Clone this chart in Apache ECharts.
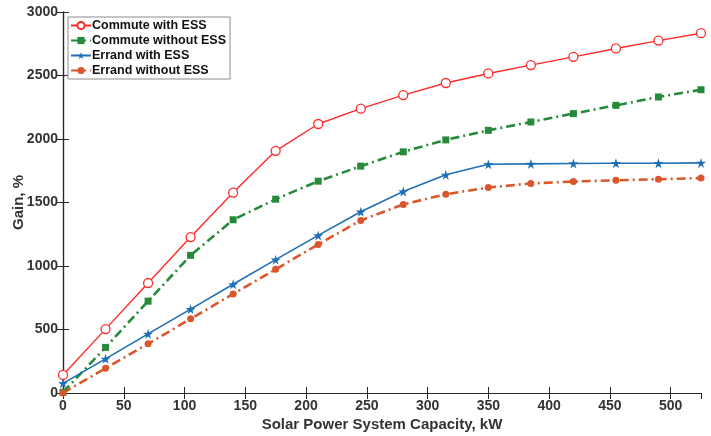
<!DOCTYPE html>
<html>
<head>
<meta charset="utf-8">
<script src="https://cdn.jsdelivr.net/npm/echarts@6/dist/echarts.min.js"></script>
<style>
  html, body { margin: 0; padding: 0; background: #fff; }
</style>
</head>
<body>
<div id="chart" style="width:711px;height:436px"></div>
<script>
// capacity (kW)
var capacity = [0, 35, 70, 105, 140, 175, 210, 245, 280, 315, 350, 385, 420, 455, 490, 525];
// gain values, %
var commuteWithEss = [142, 503, 866, 1228, 1578, 1907, 2118, 2239, 2346, 2441, 2516, 2582, 2647, 2713, 2775, 2833];
var commuteWithoutEss = [6, 359, 723, 1084, 1364, 1526, 1668, 1786, 1899, 1993, 2068, 2134, 2200, 2265, 2331, 2388];
var errandWithEss = [76, 269, 466, 660, 856, 1050, 1241, 1427, 1587, 1718, 1801, 1804, 1807, 1809, 1809, 1812];
var errandWithoutEss = [0, 194, 387, 584, 780, 974, 1170, 1359, 1485, 1565, 1618, 1650, 1665, 1675, 1683, 1693];

var seriesNames = ["Commute with ESS", "Commute without ESS", "Errand with ESS", "Errand without ESS"];

function pairs(vals) {
  return capacity.map(function (c, i) { return [c, vals[i]]; });
}

var star = "path://M50,0 L61,35 L98,35 L68,57 L79,91 L50,70 L21,91 L32,57 L2,35 L39,35 Z";
var dashDot = [9, 4, 2, 4];
var axisColor = "#262626";
var labelFont = { color: "#333", fontSize: 14, fontWeight: "bold", fontFamily: "Liberation Sans" };
var plain = function (v) { return String(v); };

var chart = echarts.init(document.getElementById("chart"));
chart.setOption({
  animation: false,
  grid: { left: 63, right: 10, top: 12, bottom: 43, containLabel: false, outerBoundsMode: "none" },
  legend: {
    orient: "vertical",
    left: 68,
    top: 17,
    itemGap: 2,
    itemWidth: 20,
    itemHeight: 9,
    padding: [2, 4, 2, 2],
    backgroundColor: "#fff",
    borderColor: "#8c8c8c",
    borderWidth: 1,
    textStyle: { color: "#111", fontSize: 12.5, fontWeight: "bold", fontFamily: "Liberation Sans", padding: [0, 0, 0, -4] },
    data: seriesNames
  },
  xAxis: [{
    type: "value",
    min: 0, max: 525, interval: 50,
    name: "Solar Power System Capacity, kW",
    nameLocation: "middle",
    nameGap: 24,
    nameMoveOverlap: false,
    nameTextStyle: { color: "#333", fontSize: 15, fontWeight: "bold", fontFamily: "Liberation Sans" },
    axisLine: { lineStyle: { color: axisColor, width: 1.2 } },
    axisTick: { inside: true, length: 6, lineStyle: { color: axisColor } },
    axisLabel: Object.assign({ margin: 6, showMaxLabel: false, formatter: plain }, labelFont),
    splitLine: { show: false }
  }, {
    type: "value",
    position: "top",
    min: 0, max: 525, interval: 50,
    axisLine: { show: true, lineStyle: { color: axisColor, width: 1.2 } },
    axisTick: { show: true, inside: true, length: 6, lineStyle: { color: axisColor } },
    axisLabel: { show: false },
    splitLine: { show: false }
  }],
  yAxis: [{
    type: "value",
    min: 0, max: 3000, interval: 500,
    name: "Gain, %",
    nameLocation: "middle",
    nameGap: 37,
    nameMoveOverlap: false,
    nameTextStyle: { color: "#333", fontSize: 15, fontWeight: "bold", fontFamily: "Liberation Sans" },
    axisLine: { show: true, lineStyle: { color: axisColor, width: 1.2 } },
    axisTick: { show: true, inside: true, length: 6, lineStyle: { color: axisColor } },
    axisLabel: Object.assign({ margin: 5, formatter: plain }, labelFont),
    splitLine: { show: false }
  }, {
    type: "value",
    position: "right",
    min: 0, max: 3000, interval: 500,
    axisLine: { show: true, lineStyle: { color: axisColor, width: 1.2 } },
    axisTick: { show: true, inside: true, length: 6, lineStyle: { color: axisColor } },
    axisLabel: { show: false },
    splitLine: { show: false }
  }],
  series: [
    {
      name: seriesNames[0],
      type: "line",
      data: pairs(commuteWithEss),
      symbol: "circle",
      symbolSize: 9,
      color: "#ff2a2a",
      lineStyle: { width: 1.4, color: "#ff2a2a" },
      itemStyle: { color: "#fff", borderColor: "#ff2a2a", borderWidth: 1.3 }
    },
    {
      name: seriesNames[1],
      type: "line",
      data: pairs(commuteWithoutEss),
      symbol: "rect",
      symbolSize: 7,
      color: "#268a3a",
      lineStyle: { width: 2.6, color: "#268a3a", type: dashDot },
      itemStyle: { color: "#268a3a" }
    },
    {
      name: seriesNames[2],
      type: "line",
      data: pairs(errandWithEss),
      symbol: star,
      symbolSize: 10,
      color: "#1f6fb4",
      lineStyle: { width: 1.6, color: "#1f6fb4" },
      itemStyle: { color: "#1f6fb4" }
    },
    {
      name: seriesNames[3],
      type: "line",
      data: pairs(errandWithoutEss),
      symbol: "circle",
      symbolSize: 7,
      color: "#d9572a",
      lineStyle: { width: 2.6, color: "#d9572a", type: dashDot },
      itemStyle: { color: "#d9572a" }
    }
  ]
});
</script>
</body>
</html>
